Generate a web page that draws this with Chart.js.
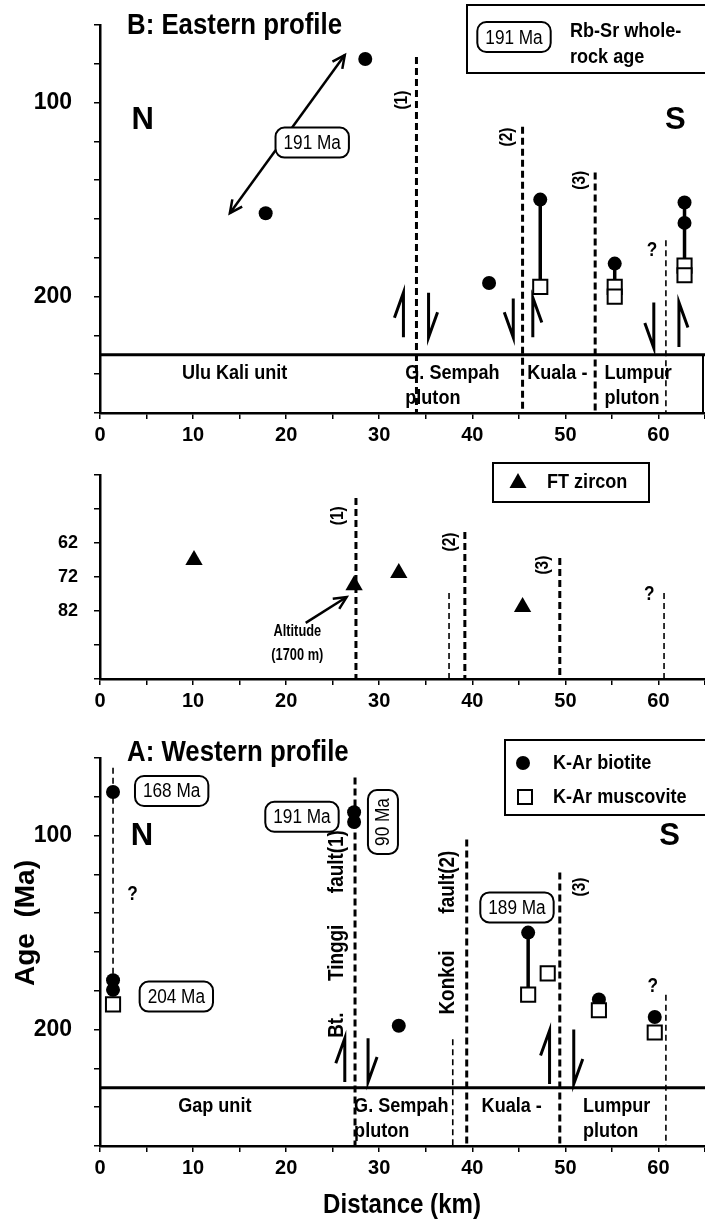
<!DOCTYPE html>
<html>
<head>
<meta charset="utf-8" />
<title>K-Ar, Rb-Sr and FT zircon ages along the profiles</title>
<script src="https://cdn.jsdelivr.net/npm/chart.js@4.4.1/dist/chart.umd.min.js"></script>
<style>
	body { margin: 0; background: #fff; }
	#wrap { position: relative; width: 705px; height: 1224px; }
	#wrap canvas { position: absolute; left: 0; }
</style>
</head>
<body>
<div id="wrap">
	<canvas id="chartEast" width="705" height="455" style="top:0px"></canvas>
	<canvas id="chartFT" width="705" height="267" style="top:455px"></canvas>
	<canvas id="chartWest" width="705" height="502" style="top:722px"></canvas>
</div>
<script>
const FONT = "'Liberation Sans', Arial, sans-serif";
const NARROW = 0.86;   // the figure uses a condensed type, squeeze the text a bit

// ---------- axes ----------
const distMin = 0, distMax = 65;
const distLabels = [0, 10, 20, 30, 40, 50, 60];
const ageMin = 60, ageMax = 260;          // K-Ar panels (Ma, downwards)
const ageLabels = [100, 200];
const ftMin = 42, ftMax = 102;            // FT zircon panel (Ma)
const ftLabels = [62, 72, 82];
const unitTop = 230;                      // top of the rock unit strip
const unitRowMa = [239.5, 252.5];         // two text rows inside the strip

// ---------- B: Eastern profile ----------
const eastBiotiteKm = [17.8, 28.5, 41.8, 47.3, 55.3, 62.8, 62.8];
const eastBiotiteMa = [157, 77.5, 193, 150, 183, 151.5, 162];
const eastMuscoviteKm = [47.3, 55.3, 55.3, 62.8, 62.8];
const eastMuscoviteMa = [195, 195, 200, 184, 189];
const eastTieKm = [47.3, 55.3, 62.8];
const eastTieFrom = [150, 183, 151.5];
const eastTieTo = [195, 195, 184];
const eastFaultKm = [34.0, 45.4, 53.2, 60.8];
const eastFaultTop = [76.5, 112.5, 136, 171];
const eastFaultMain = [true, true, true, false];
const eastNoteText = ['(1)', '(2)', '(3)', '?'];
const eastNoteKm = [32.5, 43.7, 51.6, 59.3];
const eastNoteMa = [98.7, 117.7, 140, 176];
const eastShearKm = [32.6, 35.3, 44.4, 46.5, 59.5, 62.2];
const eastShearTop = [198, 198, 201, 200.5, 203, 203];
const eastShearBottom = [221, 221, 221, 221, 226.5, 226];
const eastShearDir = ['up', 'down', 'down', 'up', 'down', 'up'];
const eastShearSide = [-1, 1, -1, 1, -1, 1];
const eastRbSrKm = [13.95, 26.3];
const eastRbSrMa = [157, 75.5];
const eastRbSrAge = '191 Ma';
const eastRbSrTag = [22.8, 120.6];
const eastUnits = ['Ulu Kali unit', 'G. Sempah', 'pluton', 'Kuala -', 'Lumpur', 'pluton'];
const eastUnitKm = [8.8, 32.8, 32.8, 45.9, 54.2, 54.2];
const eastUnitRow = [0, 0, 1, 0, 0, 1];

// ---------- FT zircon ----------
const ftKm = [10.1, 27.3, 32.1, 45.4];
const ftMa = [67, 74.4, 70.8, 80.8];
const ftFaultKm = [27.5, 37.5, 39.2, 49.4, 60.6];
const ftFaultTop = [48.8, 76.7, 58.8, 66.4, 76.7];
const ftFaultMain = [true, false, true, true, false];
const ftNoteText = ['(1)', '(2)', '(3)', '?'];
const ftNoteKm = [25.6, 37.6, 47.6, 59.0];
const ftNoteMa = [54, 61.7, 68.5, 77];

// ---------- A: Western profile ----------
const westBiotiteKm = [1.4, 1.4, 1.4, 27.3, 27.3, 32.1, 46.0, 53.6, 59.6];
const westBiotiteMa = [77.5, 174.5, 179.5, 88, 93, 198, 150, 184.5, 193.5];
const westMuscoviteKm = [1.4, 46.0, 48.1, 53.6, 59.6];
const westMuscoviteMa = [187, 182, 171, 190, 201.5];
const westTieKm = [46.0];
const westTieFrom = [150];
const westTieTo = [182];
const westFaultKm = [1.4, 27.4, 37.9, 39.4, 49.4, 60.8];
const westFaultTop = [65, 70, 205, 102, 119, 182];
const westFaultBottom = [175, 260, 260, 260, 260, 260];
const westFaultMain = [false, true, false, true, true, false];
const westShearKm = [26.3, 28.8, 48.3, 50.9];
const westShearTop = [204.5, 204.5, 200.5, 200];
const westShearBottom = [227, 227, 228, 228];
const westShearDir = ['up', 'down', 'up', 'down'];
const westShearSide = [-1, 1, -1, 1];
const westAgeTags = ['168 Ma', '204 Ma', '191 Ma', '189 Ma'];
const westAgeTagKm = [7.7, 8.2, 21.7, 44.8];
const westAgeTagMa = [77, 183, 90.3, 137];
const westUnits = ['Gap unit', 'G. Sempah', 'pluton', 'Kuala -', 'Lumpur', 'pluton'];
const westUnitKm = [8.4, 27.3, 27.3, 41.0, 51.9, 51.9];
const westUnitRow = [0, 0, 1, 0, 0, 1];

// ---------- helpers ----------
const pts = (xs, ys) => xs.map((x, i) => ({ x: x, y: ys[i] }));
const font = (size, bold) => (bold ? 'bold ' : '') + size + 'px ' + FONT;

function text(ctx, s, x, y, size, opt) {
	opt = opt || {};
	ctx.save();
	ctx.translate(x, y);
	if (opt.rot) ctx.rotate(opt.rot);
	ctx.scale(opt.sx || NARROW, 1);
	ctx.font = font(size, opt.bold !== false);
	ctx.fillStyle = '#000';
	ctx.textAlign = opt.align || 'left';
	ctx.textBaseline = 'middle';
	ctx.fillText(s, 0, 0);
	ctx.restore();
}

function line(ctx, x1, y1, x2, y2, w, dash) {
	ctx.save();
	ctx.strokeStyle = '#000';
	ctx.lineWidth = w;
	if (dash) ctx.setLineDash(dash);
	ctx.beginPath();
	ctx.moveTo(x1, y1);
	ctx.lineTo(x2, y2);
	ctx.stroke();
	ctx.restore();
}

function fault(ctx, x, yTop, yBot, main) {
	line(ctx, x, yTop, x, yBot, main ? 3 : 1.6, main ? [7, 4] : [6, 4]);
}

function head(ctx, x, y, fromX, fromY) {
	const a = Math.atan2(y - fromY, x - fromX), L = 14, s = 0.45;
	ctx.save();
	ctx.strokeStyle = '#000';
	ctx.lineWidth = 2.5;
	ctx.beginPath();
	ctx.moveTo(x - L * Math.cos(a - s), y - L * Math.sin(a - s));
	ctx.lineTo(x, y);
	ctx.lineTo(x - L * Math.cos(a + s), y - L * Math.sin(a + s));
	ctx.stroke();
	ctx.restore();
}

// half arrow showing the sense of movement on a fault
function shear(ctx, x, yTop, yBot, dir, side) {
	const tip = dir === 'up' ? yTop : yBot;
	const tail = dir === 'up' ? yBot : yTop;
	const back = dir === 'up' ? 25 : -25;
	ctx.save();
	ctx.strokeStyle = '#000';
	ctx.lineWidth = 3;
	ctx.beginPath();
	ctx.moveTo(x, tail);
	ctx.lineTo(x, tip);
	ctx.lineTo(x + side * 9, tip + back);
	ctx.stroke();
	ctx.restore();
}

// rounded age label
function tag(ctx, s, x, y, rot) {
	ctx.save();
	ctx.translate(x, y);
	if (rot) ctx.rotate(rot);
	ctx.font = font(20, false);
	const w = ctx.measureText(s).width * NARROW + 16, h = 30;
	ctx.beginPath();
	ctx.roundRect(-w / 2, -h / 2, w, h, 9);
	ctx.fillStyle = '#fff';
	ctx.fill();
	ctx.lineWidth = 2;
	ctx.strokeStyle = '#000';
	ctx.stroke();
	ctx.scale(NARROW, 1);
	ctx.fillStyle = '#000';
	ctx.textAlign = 'center';
	ctx.textBaseline = 'middle';
	ctx.fillText(s, 0, 1);
	ctx.restore();
}

function frame(ctx, x, y, w, h) {
	ctx.save();
	ctx.lineWidth = 2;
	ctx.strokeStyle = '#000';
	ctx.strokeRect(x, y, w, h);
	ctx.restore();
}

function dot(ctx, x, y) {
	ctx.beginPath(); ctx.arc(x, y, 7, 0, Math.PI * 2); ctx.fillStyle = '#000'; ctx.fill();
}
function box(ctx, x, y) {
	ctx.save(); ctx.lineWidth = 2; ctx.strokeStyle = '#000'; ctx.fillStyle = '#fff';
	ctx.fillRect(x - 7, y - 7, 14, 14); ctx.strokeRect(x - 7, y - 7, 14, 14); ctx.restore();
}
function tri(ctx, x, y) {
	ctx.beginPath(); ctx.moveTo(x, y - 10); ctx.lineTo(x + 8.5, y + 5); ctx.lineTo(x - 8.5, y + 5); ctx.closePath();
	ctx.fillStyle = '#000'; ctx.fill();
}

function axes(yMin, yMax, yStep, yLabels, ySize, yPad, xHeight) {
	const tickFont = size => ({ family: FONT, size: size, weight: 'bold' });
	const grid = { drawOnChartArea: false, tickLength: 6, color: '#000', lineWidth: 1.5 };
	const border = { color: '#000', width: 2.5 };
	// fixed axis boxes, no extra room for edge labels
	const fitX = s => { s.height = xHeight; s.paddingLeft = 0; s.paddingRight = 0; };
	const fitY = s => { s.width = 100; s.paddingTop = 0; s.paddingBottom = 0; };
	return {
		x: {
			type: 'linear', min: distMin, max: distMax, afterFit: fitX,
			ticks: { stepSize: 5, autoSkip: false, maxRotation: 0, padding: 4, color: '#000', font: tickFont(20),
				callback: v => distLabels.includes(v) ? String(v) : '' },
			grid: grid, border: border
		},
		y: {
			type: 'linear', reverse: true, min: yMin, max: yMax, afterFit: fitY,
			ticks: { stepSize: yStep, autoSkip: false, padding: yPad, color: '#000', font: tickFont(ySize),
				callback: v => yLabels.includes(v) ? String(v) : '' },
			grid: grid, border: border
		}
	};
}

// the distance axis runs right to the edge of the figure
const stretchX = {
	id: 'stretchX',
	afterLayout(chart) {
		const a = chart.chartArea, x = chart.scales.x;
		a.right = chart.width;
		a.width = a.right - a.left;
		x.right = a.right;
		x.width = a.width;
		x.configure();
	}
};

const biotite = (xs, ys) => ({ data: pts(xs, ys), pointStyle: 'circle', pointRadius: 7,
	pointBackgroundColor: '#000', pointBorderColor: '#000', pointBorderWidth: 0, order: 2 });
const muscovite = (xs, ys) => ({ data: pts(xs, ys), pointStyle: 'rect', pointRadius: 10,
	pointBackgroundColor: '#fff', pointBorderColor: '#000', pointBorderWidth: 2, order: 1 });

function profile(id, datasets, scales, topPad, plugin) {
	return new Chart(document.getElementById(id), {
		type: 'scatter',
		data: { datasets: datasets },
		options: {
			responsive: false, animation: false, events: [],
			layout: { padding: { top: topPad, left: 0, right: 0, bottom: 0 } },
			scales: scales,
			plugins: { legend: { display: false }, tooltip: { enabled: false } }
		},
		plugins: [stretchX, plugin]
	});
}

function unitStrip(chart, names, kms, rows, closed) {
	const ctx = chart.ctx, a = chart.chartArea, Y = chart.scales.y.getPixelForValue(unitTop);
	line(ctx, a.left, Y, a.right, Y, 3);
	if (closed) line(ctx, a.right - 2, Y, a.right - 2, a.bottom, 2);
	names.forEach((n, i) => text(ctx, n, chart.scales.x.getPixelForValue(kms[i]),
		chart.scales.y.getPixelForValue(unitRowMa[rows[i]]), 21));
}

// ---------- B: Eastern profile ----------
const eastNotes = {
	id: 'eastNotes',
	beforeDatasetsDraw(chart) {
		const ctx = chart.ctx, a = chart.chartArea;
		const X = v => chart.scales.x.getPixelForValue(v), Y = v => chart.scales.y.getPixelForValue(v);
		eastFaultKm.forEach((km, i) => fault(ctx, X(km), Y(eastFaultTop[i]), a.bottom, eastFaultMain[i]));
		unitStrip(chart, eastUnits, eastUnitKm, eastUnitRow, true);
		eastTieKm.forEach((km, i) => line(ctx, X(km), Y(eastTieFrom[i]), X(km), Y(eastTieTo[i]), 3.5));
		eastShearKm.forEach((km, i) => shear(ctx, X(km), Y(eastShearTop[i]), Y(eastShearBottom[i]), eastShearDir[i], eastShearSide[i]));
		const x1 = X(eastRbSrKm[0]), y1 = Y(eastRbSrMa[0]), x2 = X(eastRbSrKm[1]), y2 = Y(eastRbSrMa[1]);
		line(ctx, x1, y1, x2, y2, 2.5);
		head(ctx, x1, y1, x2, y2);
		head(ctx, x2, y2, x1, y1);
	},
	afterDatasetsDraw(chart) {
		const ctx = chart.ctx;
		const X = v => chart.scales.x.getPixelForValue(v), Y = v => chart.scales.y.getPixelForValue(v);
		tag(ctx, eastRbSrAge, X(eastRbSrTag[0]), Y(eastRbSrTag[1]));
		eastNoteText.forEach((s, i) => text(ctx, s, X(eastNoteKm[i]), Y(eastNoteMa[i]), s === '?' ? 20 : 18,
			{ align: 'center', rot: s === '?' ? 0 : -Math.PI / 2 }));
		text(ctx, 'N', X(4.6), Y(109), 31, { align: 'center', sx: 1 });
		text(ctx, 'S', X(61.8), Y(109), 31, { align: 'center', sx: 1 });
		text(ctx, 'B: Eastern profile', 127, 26, 30);
		frame(ctx, 467, 5, 240, 68);
		tag(ctx, '191 Ma', 514, 37);
		text(ctx, 'Rb-Sr whole-', 570, 31, 21);
		text(ctx, 'rock age', 570, 57, 21);
	}
};

// ---------- FT zircon ----------
const ftNotes = {
	id: 'ftNotes',
	beforeDatasetsDraw(chart) {
		const ctx = chart.ctx, a = chart.chartArea;
		const X = v => chart.scales.x.getPixelForValue(v), Y = v => chart.scales.y.getPixelForValue(v);
		ftFaultKm.forEach((km, i) => fault(ctx, X(km), Y(ftFaultTop[i]), a.bottom, ftFaultMain[i]));
		const x1 = X(22.1), y1 = Y(85.5), x2 = X(26.5), y2 = Y(77.9);
		line(ctx, x1, y1, x2, y2, 2.5);
		head(ctx, x2, y2, x1, y1);
	},
	afterDatasetsDraw(chart) {
		const ctx = chart.ctx;
		const X = v => chart.scales.x.getPixelForValue(v), Y = v => chart.scales.y.getPixelForValue(v);
		ftNoteText.forEach((s, i) => text(ctx, s, X(ftNoteKm[i]), Y(ftNoteMa[i]), s === '?' ? 20 : 18,
			{ align: 'center', rot: s === '?' ? 0 : -Math.PI / 2 }));
		text(ctx, 'Altitude', X(21.2), Y(88), 16, { align: 'center', sx: 0.8 });
		text(ctx, '(1700 m)', X(21.2), Y(95), 16, { align: 'center', sx: 0.8 });
		frame(ctx, 493, 8, 156, 39);
		tri(ctx, 518, 28);
		text(ctx, 'FT zircon', 547, 27, 21);
	}
};

// ---------- A: Western profile ----------
const westNotes = {
	id: 'westNotes',
	beforeDatasetsDraw(chart) {
		const ctx = chart.ctx;
		const X = v => chart.scales.x.getPixelForValue(v), Y = v => chart.scales.y.getPixelForValue(v);
		westFaultKm.forEach((km, i) => fault(ctx, X(km), Y(westFaultTop[i]), Y(westFaultBottom[i]), westFaultMain[i]));
		unitStrip(chart, westUnits, westUnitKm, westUnitRow, false);
		westTieKm.forEach((km, i) => line(ctx, X(km), Y(westTieFrom[i]), X(km), Y(westTieTo[i]), 3.5));
		westShearKm.forEach((km, i) => shear(ctx, X(km), Y(westShearTop[i]), Y(westShearBottom[i]), westShearDir[i], westShearSide[i]));
	},
	afterDatasetsDraw(chart) {
		const ctx = chart.ctx, a = chart.chartArea;
		const X = v => chart.scales.x.getPixelForValue(v), Y = v => chart.scales.y.getPixelForValue(v);
		westAgeTags.forEach((s, i) => tag(ctx, s, X(westAgeTagKm[i]), Y(westAgeTagMa[i])));
		tag(ctx, '90 Ma', X(30.4), Y(93), -Math.PI / 2);
		text(ctx, 'Bt.      Tinggi      fault(1)', X(25.5), Y(150.7), 22, { align: 'center', rot: -Math.PI / 2 });
		text(ctx, 'Konkoi       fault(2)', X(37.4), Y(150), 22, { align: 'center', rot: -Math.PI / 2 });
		text(ctx, '(3)', X(51.6), Y(126.5), 18, { align: 'center', rot: -Math.PI / 2 });
		text(ctx, '?', X(3.5), Y(130.6), 20, { align: 'center' });
		text(ctx, '?', X(59.4), Y(178), 20, { align: 'center' });
		text(ctx, 'N', X(4.5), Y(100.5), 31, { align: 'center', sx: 1 });
		text(ctx, 'S', X(61.2), Y(100.5), 31, { align: 'center', sx: 1 });
		text(ctx, 'A: Western profile', 127, 31, 30);
		frame(ctx, 505, 18, 202, 75);
		dot(ctx, 523, 41);
		text(ctx, 'K-Ar biotite', 553, 41, 21);
		box(ctx, 525, 75);
		text(ctx, 'K-Ar muscovite', 553, 75, 21);
		text(ctx, 'Distance (km)', 402, 483, 28, { align: 'center' });
		text(ctx, 'Age  (Ma)', 26, 201, 28, { align: 'center', rot: -Math.PI / 2, sx: 1 });
	}
};

profile('chartEast',
	[biotite(eastBiotiteKm, eastBiotiteMa), muscovite(eastMuscoviteKm, eastMuscoviteMa)],
	axes(ageMin, ageMax, 20, ageLabels, 23, 22, 42), 25, eastNotes);

profile('chartFT',
	[{ data: pts(ftKm, ftMa), pointStyle: 'triangle', pointRadius: 10,
		pointBackgroundColor: '#000', pointBorderColor: '#000', pointBorderWidth: 0 }],
	axes(ftMin, ftMax, 10, ftLabels, 18, 16, 43), 20, ftNotes);

profile('chartWest',
	[biotite(westBiotiteKm, westBiotiteMa), muscovite(westMuscoviteKm, westMuscoviteMa)],
	axes(ageMin, ageMax, 20, ageLabels, 23, 22, 78), 36, westNotes);
</script>
</body>
</html>
